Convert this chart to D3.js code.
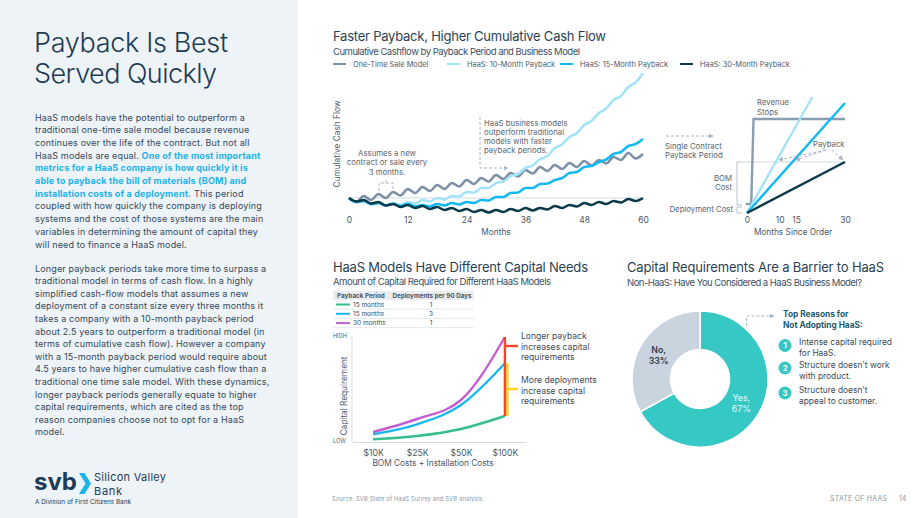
<!DOCTYPE html>
<html lang="en">
<head>
<meta charset="utf-8">
<script src="https://cdn.jsdelivr.net/npm/d3@7"></script>
<style>
  body { margin: 0; background: #fff; }
  svg text { font-family: Inter, "Open Sans", sans-serif; }
  .title { fill: #2b3f52; font-size: 13px; }
  .sub { fill: #3d5166; font-size: 9.5px; }
  .legend { fill: #4f5d6b; font-size: 7.4px; }
  .tick text { fill: #4a5866; font-size: 8.5px; }
  .lbl { fill: #4a5866; font-size: 8.3px; }
  .note { fill: #5a6570; font-size: 7.8px; }
  .body { fill: #33495c; font-size: 9px; letter-spacing: 0.15px; }
  .hl { fill: #1cb4ea; font-weight: 700; }
  .dash { fill: none; stroke: #aab6c2; stroke-width: 1; stroke-dasharray: 3,2; }
</style>
</head>
<body>
<svg id="slide" width="920" height="518"></svg>
<script>
// ---- data ----
// top chart, read every 1.5 months (peaks and dips of the 3-month cycle)
var months = d3.range(0, 60.1, 1.5);
var monthTicks = [0, 12, 24, 36, 48, 60];
var oneTime = [0,-4,2,-2,4,0,6,2.5,9,5,11,7,13,9,15,11.5,18,14,20,16.5,23,19,25,21.5,28,24.5,31,27,33,29,35,31,37,32.5,38,34.5,41,38,45,39.5,44];
var haas10 = [0,-4,-3,-6.5,-5,-7.5,-5,-7,-4,-5.5,-2,-3.5,0,-1.5,2,1.5,6,5.5,10,10,15,16.5,22,24,30,32.5,39,42,50,53.5,61,65,73,77,85,89.5,98,102,111,115.5,125];
var haas15 = [0,-4,-3,-6,-5,-7.5,-6,-8,-6,-8.5,-7,-8.5,-6,-7.5,-5,-6.5,-4,-5,-2,-2.5,1,1,5,5.5,10,10,14,14.5,18,20,25,26,31,32,36,38.5,44,46,52,54,59];
var haas30 = [0,-3.5,-2,-5.5,-4,-7.5,-6,-9,-7,-10,-8,-11,-9,-12,-10,-13,-11,-14,-12,-14.5,-12,-14,-11,-13,-10,-12.5,-10,-11.5,-8,-10,-7,-8.5,-5,-7,-4,-6,-3,-4.5,-1,-3,0];
var seriesNames = ["One-Time Sale Model", "HaaS: 10-Month Payback", "HaaS: 15-Month Payback", "HaaS: 30-Month Payback"];
var seriesColors = ["#7d90a6", "#a3e3f8", "#14b9f1", "#0d3a4a"];

// single contract diagram
var sinceOrderTicks = [0, 10, 15, 30];
var stepMonths = [-0.4, 1.3, 2, 30];
var stepValues = [9, 9, 94, 94];
var deployCost = 9;
var paybackLevel = 51;
var contractEnds = [[20, 116], [30, 110], [30, 51]];

// capital needs chart
var bomCosts = ["$10K", "$25K", "$50K", "$100K"];
var cap15x1 = [2.7, 6, 13, 26];
var cap15x3 = [7.7, 17.7, 37, 78.7];
var cap30x1 = [10, 23, 42, 105];
var paybackPeriods = ["15 months", "15 months", "30 months"];
var deploymentsPer90 = [1, 3, 1];
var capColors = ["#34bf8d", "#1ab8f0", "#c35fd2"];

// donut
var pieLabels = ["Yes,", "No,"];
var pieValues = [67, 33];
var reasons = [["Intense capital required", "for HaaS."], ["Structure doesn't work", "with product."], ["Structure doesn't", "appeal to customer."]];

var svg = d3.select("#slide");
var defs = svg.append("defs");
defs.append("marker").attr("id", "arr").attr("viewBox", "0 0 10 10").attr("refX", 9).attr("refY", 5)
  .attr("markerWidth", 5).attr("markerHeight", 5).attr("orient", "auto")
  .append("path").attr("d", "M0,0L10,5L0,10z").attr("fill", "#aab6c2");

function txt(g, x, y, s, cls) {
  return g.append("text").attr("x", x).attr("y", y).attr("class", cls).text(s);
}

// ---- left panel ----
svg.append("rect").attr("width", 298).attr("height", 518).attr("fill", "#eef3f7");
txt(svg, 34, 52, "Payback Is Best", "").attr("fill", "#1d3c55").style("font-size", "27px").style("font-weight", 300).attr("textLength", 194);
txt(svg, 34, 83, "Served Quickly", "").attr("fill", "#1d3c55").style("font-size", "27px").style("font-weight", 300).attr("textLength", 183);

var para1 = [
  [["HaaS models have the potential to outperform a", 0]],
  [["traditional one-time sale model because revenue", 0]],
  [["continues over the life of the contract. But not all", 0]],
  [["HaaS models are equal. ", 0], ["One of the most important", 1]],
  [["metrics for a HaaS company is how quickly it is", 1]],
  [["able to payback the bill of materials (BOM) and", 1]],
  [["installation costs of a deployment.", 1], [" This period", 0]],
  [["coupled with how quickly the company is deploying", 0]],
  [["systems and the cost of those systems are the main", 0]],
  [["variables in determining the amount of capital they", 0]],
  [["will need to finance a HaaS model.", 0]]
];
var para2 = [
  "Longer payback periods take more time to surpass a",
  "traditional model in terms of cash flow. In a highly",
  "simplified cash-flow models that assumes a new",
  "deployment of a constant size every three months it",
  "takes a company with a 10-month payback period",
  "about 2.5 years to outperform a traditional model (in",
  "terms of cumulative cash flow). However a company",
  "with a 15-month payback period would require about",
  "4.5 years to have higher cumulative cash flow than a",
  "traditional one time sale model. With these dynamics,",
  "longer payback periods generally equate to higher",
  "capital requirements, which are cited as the top",
  "reason companies choose not to opt for a HaaS",
  "model."
];
para1.forEach(function(parts, i) {
  var t = svg.append("text").attr("x", 35).attr("y", 120.5 + i * 12.7).attr("class", "body");
  parts.forEach(function(p) { t.append("tspan").attr("class", p[1] ? "hl" : null).text(p[0]); });
});
para2.forEach(function(s, i) { txt(svg, 35, 271.5 + i * 12.6, s, "body"); });

// logo
txt(svg, 34, 490, "svb", "").attr("fill", "#1d3c55").style("font-size", "24px").style("font-weight", 700).attr("textLength", 43);
svg.append("path").attr("d", "M79,473L84.5,473L91,483.5L84.5,494L79,494L85.5,483.5Z").attr("fill", "#1cb4ea");
txt(svg, 94, 481, "Silicon Valley", "").attr("fill", "#1d3c55").style("font-size", "11px").attr("textLength", 72);
txt(svg, 94, 495, "Bank", "").attr("fill", "#1d3c55").style("font-size", "11px").attr("textLength", 28);
txt(svg, 35, 504, "A Division of First Citizens Bank", "").attr("fill", "#1d3c55").style("font-size", "6.4px").attr("textLength", 96);

// ---- top chart ----
txt(svg, 333, 41, "Faster Payback, Higher Cumulative Cash Flow", "title").attr("textLength", 273);
txt(svg, 333, 55, "Cumulative Cashflow by Payback Period and Business Model", "sub").attr("textLength", 247);
var legX = [333, 447, 560, 680];
seriesNames.forEach(function(n, i) {
  svg.append("line").attr("x1", legX[i]).attr("x2", legX[i] + 13).attr("y1", 64).attr("y2", 64)
    .attr("stroke", seriesColors[i]).attr("stroke-width", 2);
  txt(svg, legX[i] + 20, 66.5, n, "legend");
});

var x1 = d3.scaleLinear().domain([0, 60]).range([349, 643]);
var y1 = d3.scaleLinear().domain([-15, 125]).range([213, 73]);
svg.append("line").attr("x1", x1(0)).attr("x2", x1(60)).attr("y1", y1(0)).attr("y2", y1(0))
  .attr("stroke", "#d3dae1").attr("stroke-width", 1);
var line1 = d3.line().x(function(d, i) { return x1(months[i]); }).y(function(d) { return y1(d); }).curve(d3.curveMonotoneX);
[oneTime, haas10, haas15, haas30].forEach(function(s, i) {
  svg.append("path").datum(s).attr("d", line1).attr("fill", "none")
    .attr("stroke", seriesColors[i]).attr("stroke-width", 2.6);
});
var ax1 = svg.append("g").attr("transform", "translate(0," + y1(-15) + ")")
  .call(d3.axisBottom(x1).tickValues(monthTicks).tickSize(0).tickPadding(4));
ax1.select(".domain").remove();
txt(svg, x1(30), 235, "Months", "lbl").attr("text-anchor", "middle");
txt(svg, 0, 0, "Cumulative Cash Flow", "lbl").attr("text-anchor", "middle")
  .attr("transform", "translate(340,144) rotate(-90)");

["Assumes a new", "contract or sale every", "3 months."].forEach(function(s, i) {
  txt(svg, 387, 155.5 + i * 9.5, s, "note").attr("text-anchor", "middle");
});
svg.append("path").attr("class", "dash").attr("d", "M379,191V183H393V191M386,183V178");
["HaaS business models", "outperform traditional", "models with faster", "payback periods."].forEach(function(s, i) {
  txt(svg, 484, 125.5 + i * 9.3, s, "note");
});
svg.append("path").attr("class", "dash").attr("d", "M480,117V168H508").attr("marker-end", "url(#arr)");

// ---- single contract diagram ----
var x2 = d3.scaleLinear().domain([0, 30]).range([747, 845]);
var y2 = d3.scaleLinear().domain([0, 120]).range([213, 93]);
svg.append("line").attr("x1", x2(-1.5)).attr("x2", x2(30)).attr("y1", y2(paybackLevel)).attr("y2", y2(paybackLevel))
  .attr("stroke", "#cfd7de").attr("stroke-width", 1);
svg.append("path").datum(stepMonths.map(function(m, i) { return [m, stepValues[i]]; }))
  .attr("d", d3.line().x(function(d) { return x2(d[0]); }).y(function(d) { return y2(d[1]); }))
  .attr("fill", "none").attr("stroke", "#8a9db1").attr("stroke-width", 2.4);
contractEnds.forEach(function(e, i) {
  svg.append("line").attr("x1", x2(0)).attr("y1", y2(0)).attr("x2", x2(e[0])).attr("y2", y2(e[1]))
    .attr("stroke", seriesColors[i + 1]).attr("stroke-width", 2.4);
});
var ax2 = svg.append("g").attr("transform", "translate(0," + y2(0) + ")")
  .call(d3.axisBottom(x2).tickValues(sinceOrderTicks).tickSize(0).tickPadding(4));
ax2.select(".domain").remove();
txt(svg, 793, 235, "Months Since Order", "lbl").attr("text-anchor", "middle");
txt(svg, 757, 105, "Revenue", "note");
txt(svg, 757, 114.5, "Stops", "note");
txt(svg, 665, 148.5, "Single Contract", "note");
txt(svg, 665, 157.5, "Payback Period", "note");
svg.append("path").attr("class", "dash").attr("d", "M666,136H713").attr("marker-end", "url(#arr)");
txt(svg, 732, 180.5, "BOM", "note").attr("text-anchor", "end");
txt(svg, 732, 189.5, "Cost", "note").attr("text-anchor", "end");
txt(svg, 733, 212, "Deployment Cost", "note").attr("text-anchor", "end");
svg.append("path").attr("fill", "none").attr("stroke", "#b9c3cc").attr("stroke-width", 1)
  .attr("d", "M742," + y2(paybackLevel) + "H737V" + (y2(deployCost) + 1) + "H742M742," + (y2(deployCost) + 3) + "H737V" + y2(0) + "H742");
txt(svg, 813, 147, "Payback", "note");
contractEnds.forEach(function(e) {
  var m = paybackLevel / (e[1] / e[0]);
  svg.append("path").attr("class", "dash").attr("marker-end", "url(#arr)")
    .attr("d", "M" + (m > 25 ? 832 : 826) + ",150L" + (x2(m) + (m > 25 ? -2 : 3)) + "," + (y2(paybackLevel) - 2));
});

// ---- capital needs chart ----
txt(svg, 333, 272, "HaaS Models Have Different Capital Needs", "title").attr("textLength", 255);
txt(svg, 333, 285, "Amount of Capital Required for Different HaaS Models", "sub").attr("textLength", 218);
svg.append("rect").attr("x", 333).attr("y", 291).attr("width", 141).attr("height", 9).attr("fill", "#e9edf1");
txt(svg, 337, 298, "Payback Period", "").attr("fill", "#4a5866").style("font-size", "6.3px").style("font-weight", 700);
txt(svg, 432, 298, "Deployments per 90 Days", "").attr("fill", "#4a5866").style("font-size", "6.3px").style("font-weight", 700).attr("text-anchor", "middle");
paybackPeriods.forEach(function(p, i) {
  var yy = 304.5 + i * 9.3;
  svg.append("line").attr("x1", 336).attr("x2", 350).attr("y1", yy).attr("y2", yy).attr("stroke", capColors[i]).attr("stroke-width", 2);
  txt(svg, 353, yy + 2.3, p, "").attr("fill", "#3d4a56").style("font-size", "6.5px");
  txt(svg, 431, yy + 2.3, deploymentsPer90[i], "").attr("fill", "#3d4a56").style("font-size", "6.5px").attr("text-anchor", "middle");
  svg.append("line").attr("x1", 333).attr("x2", 474).attr("y1", yy + 4.6).attr("y2", yy + 4.6).attr("stroke", "#e3e8ec");
});

var x3 = d3.scalePoint().domain(bomCosts).range([352, 526]).padding(0.48);
var y3 = d3.scaleLinear().domain([0, 110]).range([442, 332]);
svg.append("line").attr("x1", 352).attr("x2", 352).attr("y1", 336).attr("y2", 442).attr("stroke", "#d5dbe1");
var ax3 = svg.append("g").attr("transform", "translate(0,442)")
  .call(d3.axisBottom(x3).tickSize(0).tickPadding(7.5));
ax3.select(".domain").attr("stroke", "#d5dbe1");
ax3.selectAll("text").style("font-size", "8.6px");
txt(svg, 433, 466, "BOM Costs + Installation Costs", "lbl").attr("text-anchor", "middle");
txt(svg, 0, 0, "Capital Requirement", "lbl").attr("text-anchor", "middle").attr("transform", "translate(347,396) rotate(-90)");
txt(svg, 333, 338, "HIGH", "").attr("fill", "#4a5866").style("font-size", "5.5px");
txt(svg, 333, 443, "LOW", "").attr("fill", "#4a5866").style("font-size", "5.5px");
var line3 = d3.line().x(function(d, i) { return x3(bomCosts[i]); }).y(function(d) { return y3(d); }).curve(d3.curveMonotoneX);
[cap15x1, cap15x3, cap30x1].forEach(function(s, i) {
  svg.append("path").datum(s).attr("d", line3).attr("fill", "none").attr("stroke", capColors[i]).attr("stroke-width", 2.4);
});
var xe = x3("$100K");
svg.append("line").attr("x1", xe + 2.5).attr("x2", xe + 2.5).attr("y1", y3(cap15x3[3])).attr("y2", y3(cap15x1[3]))
  .attr("stroke", "#ffd21f").attr("stroke-width", 2.4);
svg.append("line").attr("x1", xe + 2.5).attr("x2", 518).attr("y1", 389).attr("y2", 389).attr("stroke", "#ffd21f").attr("stroke-width", 2.4);
svg.append("line").attr("x1", xe).attr("x2", xe).attr("y1", y3(cap30x1[3])).attr("y2", y3(cap15x1[3]))
  .attr("stroke", "#f4472a").attr("stroke-width", 2.4);
svg.append("line").attr("x1", xe).attr("x2", 518).attr("y1", 346).attr("y2", 346).attr("stroke", "#f4472a").attr("stroke-width", 2.4);
["Longer payback", "increases capital", "requirements"].forEach(function(s, i) {
  txt(svg, 521, 339 + i * 10.5, s, "").attr("fill", "#3d4a56").style("font-size", "8.6px");
});
["More deployments", "increase capital", "requirements"].forEach(function(s, i) {
  txt(svg, 521, 383 + i * 10.5, s, "").attr("fill", "#3d4a56").style("font-size", "8.6px");
});

// ---- donut ----
txt(svg, 627, 272, "Capital Requirements Are a Barrier to HaaS", "title").attr("textLength", 257);
txt(svg, 627, 286, "Non-HaaS: Have You Considered a HaaS Business Model?", "sub").attr("textLength", 235);
var pie = d3.pie().sort(null)(pieValues);
var arc = d3.arc().innerRadius(29.5).outerRadius(68);
var mid = d3.arc().innerRadius(48).outerRadius(48);
var donut = svg.append("g").attr("transform", "translate(700,379)");
donut.selectAll("path").data(pie).enter().append("path").attr("d", arc)
  .attr("fill", function(d, i) { return i === 0 ? "#35c8c5" : "#c9d4de"; })
  .attr("stroke", "#fff").attr("stroke-width", 1.5);
pie.forEach(function(d, i) {
  var c = mid.centroid(d);
  var col = i === 0 ? "#e6fbfa" : "#2d3d4d";
  [pieLabels[i], pieValues[i] + "%"].forEach(function(s, j) {
    txt(donut, c[0], c[1] - 2 + j * 11, s, "").attr("text-anchor", "middle").attr("fill", col)
      .style("font-size", "8.8px").style("font-weight", i === 0 ? 400 : 600);
  });
});
svg.append("path").attr("class", "dash").attr("d", "M746.5,326V316H774").attr("marker-end", "url(#arr)");
txt(svg, 783, 317, "Top Reasons for", "").attr("fill", "#1e5868").style("font-size", "8.3px").style("font-weight", 700);
txt(svg, 783, 328, "Not Adopting HaaS:", "").attr("fill", "#1e5868").style("font-size", "8.3px").style("font-weight", 700);
var reasonY = [345.5, 368, 393];
reasons.forEach(function(r, i) {
  svg.append("circle").attr("cx", 785).attr("cy", reasonY[i]).attr("r", 6.5).attr("fill", "#35c8c5");
  txt(svg, 785, reasonY[i] + 2.8, i + 1, "").attr("fill", "#fff").attr("text-anchor", "middle").style("font-size", "7.5px").style("font-weight", 700);
  r.forEach(function(s, j) {
    txt(svg, 799, reasonY[i] - 0.5 + j * 11, s, "").attr("fill", "#3d4a56").style("font-size", "8.4px");
  });
});

// ---- footer ----
txt(svg, 332, 500.5, "Source: SVB State of HaaS Survey  and SVB analysis.", "").attr("fill", "#8a9aaa").style("font-size", "5.8px").attr("textLength", 152);
txt(svg, 830, 500.5, "STATE OF HAAS", "").attr("fill", "#8a9aaa").style("font-size", "7px").attr("textLength", 57);
txt(svg, 899, 500.5, "14", "").attr("fill", "#8a9aaa").style("font-size", "7px");
</script>
</body>
</html>
